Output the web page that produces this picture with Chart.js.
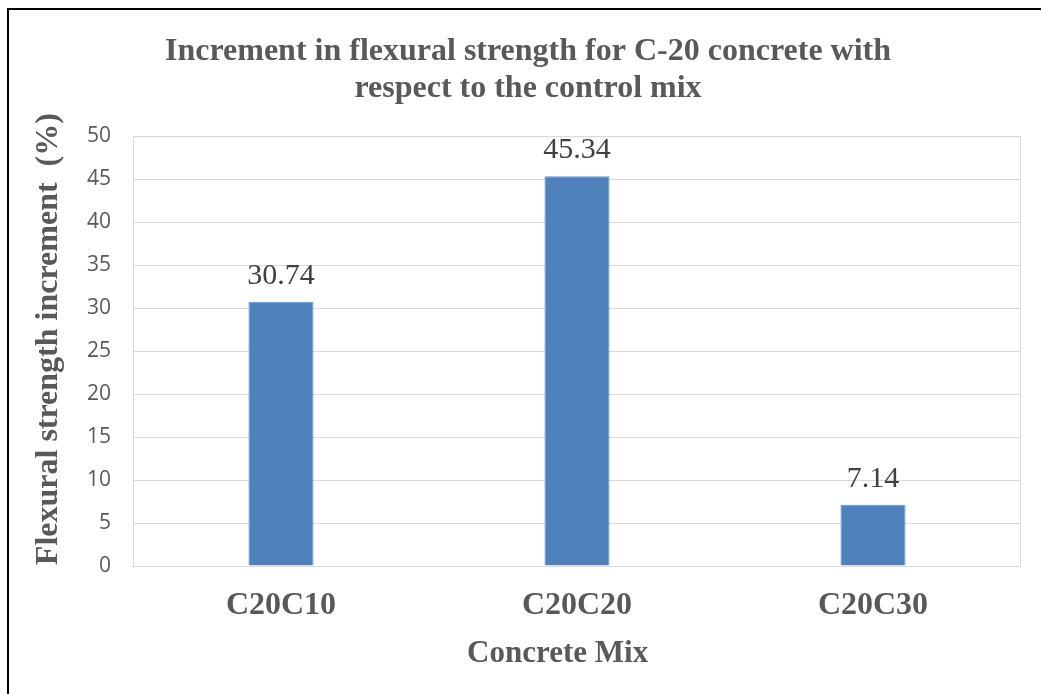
<!DOCTYPE html>
<html>
<head>
<meta charset="utf-8">
<script src="https://cdn.jsdelivr.net/npm/chart.js@4.4.0/dist/chart.umd.min.js"></script>
<style>
  html, body { margin: 0; padding: 0; background: #fff; overflow: hidden; }
  #frame { position: absolute; left: 7px; top: 8px; width: 1100px; height: 800px;
           border-left: 2px solid #000; border-top: 2px solid #000; pointer-events: none; }
  #wrap { position: absolute; left: 0; top: 0; width: 1041px; height: 694px; }
</style>
</head>
<body>
<div id="frame"></div>
<div id="wrap"><canvas id="myChart" width="1041" height="694"></canvas></div>
<script>
const mixes = ['C20C10', 'C20C20', 'C20C30'];
const increments = [30.74, 45.34, 7.14];
const titleLines = ['Increment in flexural strength for C-20 concrete with', 'respect to the control mix'];

const serif = '"Liberation Serif", "Times New Roman", serif';
const grey = '#595959';

// value labels above bars
const barLabels = {
    id: 'barLabels',
    afterDatasetsDraw(chart) {
        const ctx = chart.ctx;
        const meta = chart.getDatasetMeta(0);
        ctx.save();
        ctx.font = '30px ' + serif;
        ctx.fillStyle = '#404040';
        ctx.textAlign = 'center';
        ctx.textBaseline = 'alphabetic';
        meta.data.forEach((bar, i) => {
            ctx.fillText(increments[i].toFixed(2), bar.x, bar.y - 18);
        });
        ctx.restore();
    }
};

// grey border round plot area
const plotBorder = {
    id: 'plotBorder',
    beforeDatasetsDraw(chart) {
        const a = chart.chartArea;
        const ctx = chart.ctx;
        ctx.save();
        ctx.strokeStyle = '#D9D9D9';
        ctx.lineWidth = 1;
        ctx.strokeRect(a.left + 0.5, a.top + 0.5, a.right - a.left - 1, a.bottom - a.top);
        ctx.restore();
    }
};

const ctx = document.getElementById('myChart').getContext('2d');
const chart = new Chart(ctx, {
    type: 'bar',
    data: {
        labels: mixes,
        datasets: [{
            data: increments,
            backgroundColor: '#4F81BD',
            borderColor: '#6C95C8',
            borderWidth: 1,
            categoryPercentage: 0.22,
            barPercentage: 1.0
        }]
    },
    options: {
        responsive: false,
        animation: false,
        layout: { padding: { left: 15, right: 0, top: 0, bottom: 0 } },
        plugins: {
            legend: { display: false },
            tooltip: { enabled: false },
            title: {
                display: true,
                text: titleLines,
                color: grey,
                font: { family: serif, size: 32, weight: 'bold', lineHeight: 1.16 },
                padding: { top: 33, bottom: 29 }
            }
        },
        scales: {
            x: {
                grid: { display: false },
                border: { display: false },
                ticks: {
                    color: grey,
                    font: { family: serif, size: 32, weight: 'bold' },
                    padding: 13
                },
                title: {
                    display: true,
                    text: 'Concrete Mix     ',
                    color: grey,
                    font: { family: serif, size: 31, weight: 'bold' },
                    padding: { top: 4, bottom: 21 }
                },
                afterFit(scale) { scale.height = 128; }
            },
            y: {
                min: 0,
                max: 50,
                ticks: {
                    stepSize: 5,
                    color: grey,
                    font: { family: '"Open Sans", sans-serif', size: 21 },
                    padding: 22
                },
                grid: { color: '#D9D9D9', drawTicks: false },
                border: { display: false },
                title: {
                    display: true,
                    text: '   Flexural strength increment  (%)',
                    color: grey,
                    font: { family: serif, size: 32, weight: 'bold' },
                    padding: { top: 15, bottom: 0 }
                },
                afterFit(scale) { scale.width = 118; }
            },
            // empty strip on the right so the plot area stops short of the edge
            yRight: {
                position: 'right',
                min: 0,
                max: 50,
                ticks: { display: false },
                grid: { display: false },
                border: { display: false },
                afterFit(scale) { scale.width = 20; }
            }
        }
    },
    plugins: [plotBorder, barLabels]
});
</script>
</body>
</html>
